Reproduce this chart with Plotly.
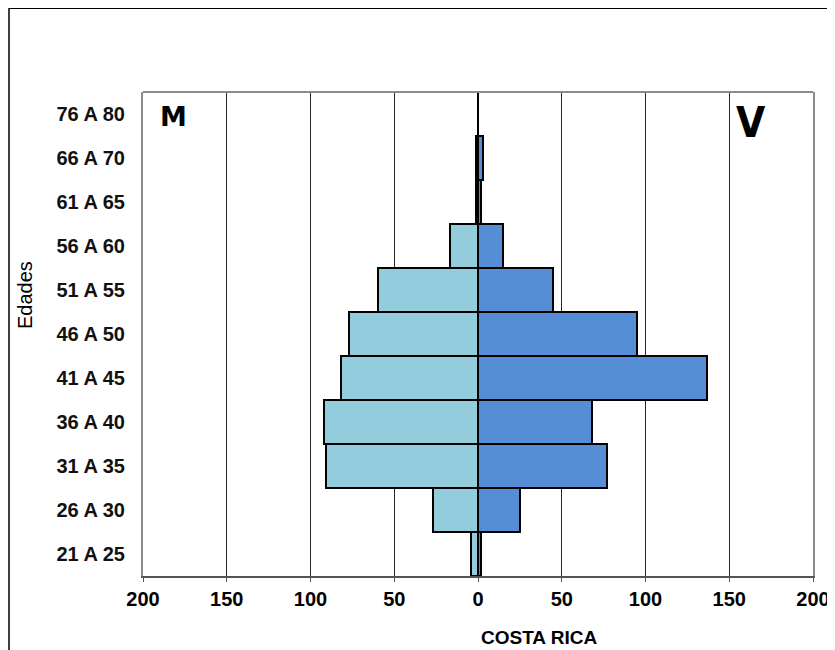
import plotly.graph_objects as go

edades = ["21 A 25", "26 A 30", "31 A 35", "36 A 40", "41 A 45", "46 A 50",
          "51 A 55", "56 A 60", "61 A 65", "66 A 70", "76 A 80"]
mujeres = [4, 27, 91, 92, 82, 77, 60, 17, 1, 1, 0]
varones = [2, 25, 77, 68, 137, 95, 45, 15, 2, 3, 0]
tick_vals = [-200, -150, -100, -50, 0, 50, 100, 150, 200]
tick_text = [str(abs(v)) for v in tick_vals]

fig = go.Figure()
fig.add_trace(go.Bar(
    y=edades, x=[-v for v in mujeres], orientation="h", name="M",
    marker=dict(color="#93CDDD", line=dict(color="black", width=2)),
))
fig.add_trace(go.Bar(
    y=edades, x=varones, orientation="h", name="V",
    marker=dict(color="#558ED5", line=dict(color="black", width=2)),
))

# page body has an 8px margin, so the figure is shifted by 8px
fig.update_layout(
    width=835, height=642,
    margin=dict(l=135, r=30, t=84, b=74, autoexpand=False),
    paper_bgcolor="white", plot_bgcolor="white",
    barmode="overlay", bargap=0,
    showlegend=False,
    xaxis=dict(
        range=[-200, 200], tickvals=tick_vals, ticktext=tick_text,
        automargin=False, ticklabeloverflow="allow",
        showgrid=True, gridcolor="#262626", gridwidth=1,
        zeroline=True, zerolinecolor="black", zerolinewidth=1,
        showline=True, linecolor="#555555", linewidth=2,
        ticks="outside", ticklen=4, tickcolor="#555555",
        tickfont=dict(family="Liberation Sans", size=20, color="black", weight="bold"),
    ),
    yaxis=dict(
        type="category", showgrid=False, zeroline=False, automargin=False,
        showline=True, linecolor="#8c8c8c", linewidth=2, mirror=True,
        ticks="outside", ticklen=12, tickcolor="rgba(0,0,0,0)",
        tickfont=dict(family="Liberation Sans", size=20, color="#111111", weight="bold"),
    ),
    font=dict(family="Liberation Sans", color="black"),
)

# top border of plot area
fig.add_shape(type="line", xref="paper", yref="paper", x0=0, x1=1, y0=1, y1=1,
              line=dict(color="#8c8c8c", width=2))
# outer chart frame
fig.add_shape(type="rect", xref="paper", yref="paper", x0=-0.2, x1=1.2, y0=-0.4, y1=1.173,
              line=dict(color="black", width=1.5))

fig.add_annotation(text="M", xref="paper", yref="paper", x=0.046, y=0.950,
                   xanchor="center", yanchor="middle", showarrow=False,
                   font=dict(family="DejaVu Sans", size=27, color="black", weight="bold"))
fig.add_annotation(text="V", xref="paper", yref="paper", x=0.908, y=0.938,
                   xanchor="center", yanchor="middle", showarrow=False,
                   font=dict(family="DejaVu Sans Condensed", size=42, color="black", weight="bold"))
fig.add_annotation(text="COSTA RICA", xref="paper", yref="paper", x=0.591, y=-0.128,
                   xanchor="center", yanchor="middle", showarrow=False,
                   font=dict(family="Liberation Sans", size=19, color="black", weight="bold"))
fig.add_annotation(text="Edades", xref="paper", yref="paper", x=-0.175, y=0.58,
                   xanchor="center", yanchor="middle", showarrow=False, textangle=-90,
                   font=dict(family="Liberation Sans", size=20, color="black"))

fig.write_html("out.html")
